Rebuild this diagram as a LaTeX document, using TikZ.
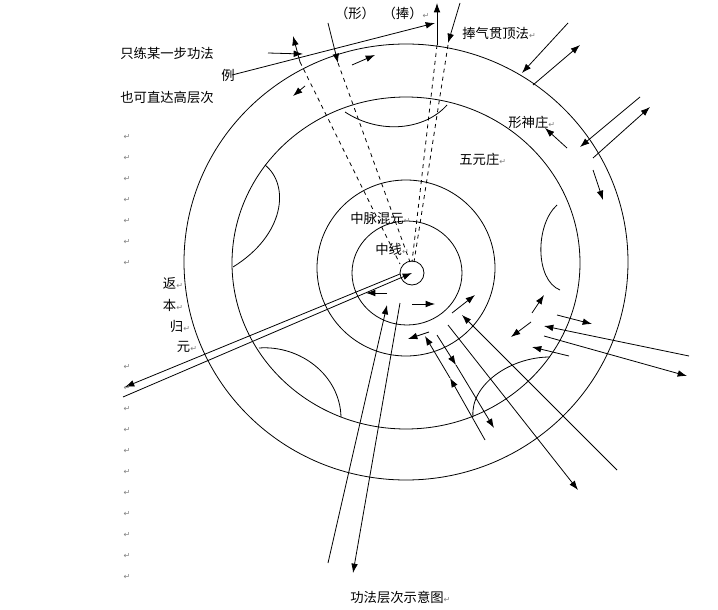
\documentclass[tikz,border=0pt]{standalone}
\usepackage{fontspec}
\setmainfont{Noto Sans CJK SC}
\newfontfamily\markfont{DejaVu Sans}
\usetikzlibrary{arrows.meta}

\tikzset{
  label text/.style={inner sep=0pt,font=\fontsize{10}{11}\selectfont},
  ret mark/.style={inner sep=0pt,text=gray,font=\markfont\fontsize{6}{7}\selectfont},
  ray/.style={->},
  hidden ray/.style={dashed},
}
\newcommand{\rt}{{\markfont\color{gray}\fontsize{6}{7}\selectfont ↵}}

\begin{document}
\begin{tikzpicture}[x=0.75pt,y=-0.75pt,>={Latex[length=7pt,width=5pt]},line width=0.6pt]
	\useasboundingbox[fill=white] (0,0) rectangle (718,610);
	
	% rings
	\draw (406,262) ellipse [x radius=222,y radius=218];
	\draw (406,263) ellipse [x radius=174,y radius=166];
	\draw (406,268) ellipse [x radius=89,y radius=88];
	\draw (407,273) ellipse [x radius=55,y radius=52];
	\node[draw,circle,minimum size=18pt,inner sep=0pt] (core) at (412,273) {};
	
	% petals
	\draw (345,112) .. controls (380,135) and (425,130) .. (447,105);
	\draw (265,165) .. controls (290,185) and (285,235) .. (233,267);
	\draw (557,205) .. controls (535,225) and (535,280) .. (560,290);
	\draw (259,348) .. controls (300,345) and (340,375) .. (341,417);
	\draw (473,417) .. controls (470,385) and (510,357) .. (550,357);
	
	% rays to the top
	\draw[hidden ray] (300,62) -- (400,264);
	\draw[ray] (300,62) -- (293,36);
	\draw[hidden ray] (338,63) -- (410,262);
	\draw[ray] (328,23) -- (338,63);
	\draw[hidden ray] (437,45) -- (412,262);
	\draw[ray] (437,45) -- (437,3);
	\draw[hidden ray] (448,45) -- (414,262);
	\draw[ray] (460,3) -- (448,43);
	\draw[ray] (232,75) -- (435,23);
	\draw[ray] (268,53) -- (303,54);
	\draw[ray] (352,65) -- (375,55);
	\draw[ray] (305,86) -- (293,96);
	
	% upper right
	\draw[ray] (568,23) -- (522,73);
	\draw[ray] (533,85) -- (580,45);
	\draw[ray] (640,97) -- (580,147);
	\draw[ray] (593,158) -- (650,107);
	\draw[ray] (567,148) -- (545,128);
	\draw[ray] (593,170) -- (603,200);
	
	% back to the origin
	\draw[ray] (400,274) -- (125,387);
	\draw[ray] (123,397) -- (core.center);
	\draw[ray] (387,293) -- (366,293);
	\draw[ray] (412,304) -- (435,304);
	\draw[ray] (452,313) -- (475,295);
	\draw[ray] (328,563) -- (387,305);
	\draw[ray] (400,303) -- (353,573);
	
	% lower right
	\draw[ray] (429,332) -- (408,339);
	\draw[ray] (485,440) -- (450,378);
	\draw[ray] (450,378) -- (425,336);
	\draw[ray] (437,335) -- (456,365);
	\draw[ray] (456,365) -- (494,428);
	\draw[ray] (448,325) -- (578,490);
	\draw[ray] (617,470) -- (462,315);
	\draw[ray] (531,322) -- (511,337);
	\draw[ray] (532,313) -- (544,295);
	\draw[ray] (557,315) -- (592,324);
	\draw[ray] (689,356) -- (544,326);
	\draw[ray] (544,336) -- (687,376);
	\draw[ray] (569,356) -- (532,347);
	
	% labels
	\node[label text] (xing) at (355,13) {（形）};
	\node[label text] (peng) at (406,13) {（捧）\rt};
	\node[label text,anchor=west] (pqgd) at (462,33) {捧气贯顶法\rt};
	\node[label text] (zhilian) at (167,53) {只练某一步功法};
	\node[label text] (li) at (228,75) {例};
	\node[label text] (yeke) at (167,97) {也可直达高层次};
	\node[label text,anchor=west] (xsz) at (508,122) {形神庄\rt};
	\node[label text,anchor=west] (wyz) at (459,159) {五元庄\rt};
	\node[label text,anchor=west] (zmhy) at (350,218) {中脉混元\rt};
	\node[label text,anchor=west] (zx) at (375,249) {中线\rt};
	\node[label text] (fan) at (173,283) {返\rt};
	\node[label text] (ben) at (173,305) {本\rt};
	\node[label text] (gui) at (180,326) {归\rt};
	\node[label text] (yuan) at (187,347) {元\rt};
	\node[label text,anchor=west] (caption) at (350,597) {功法层次示意图\rt};
	
	% empty lines on the left
	\foreach \y in {137,158,...,263,367,388,...,578}
	\node[ret mark] at (127,\y) {↵};
\end{tikzpicture}
\end{document}
